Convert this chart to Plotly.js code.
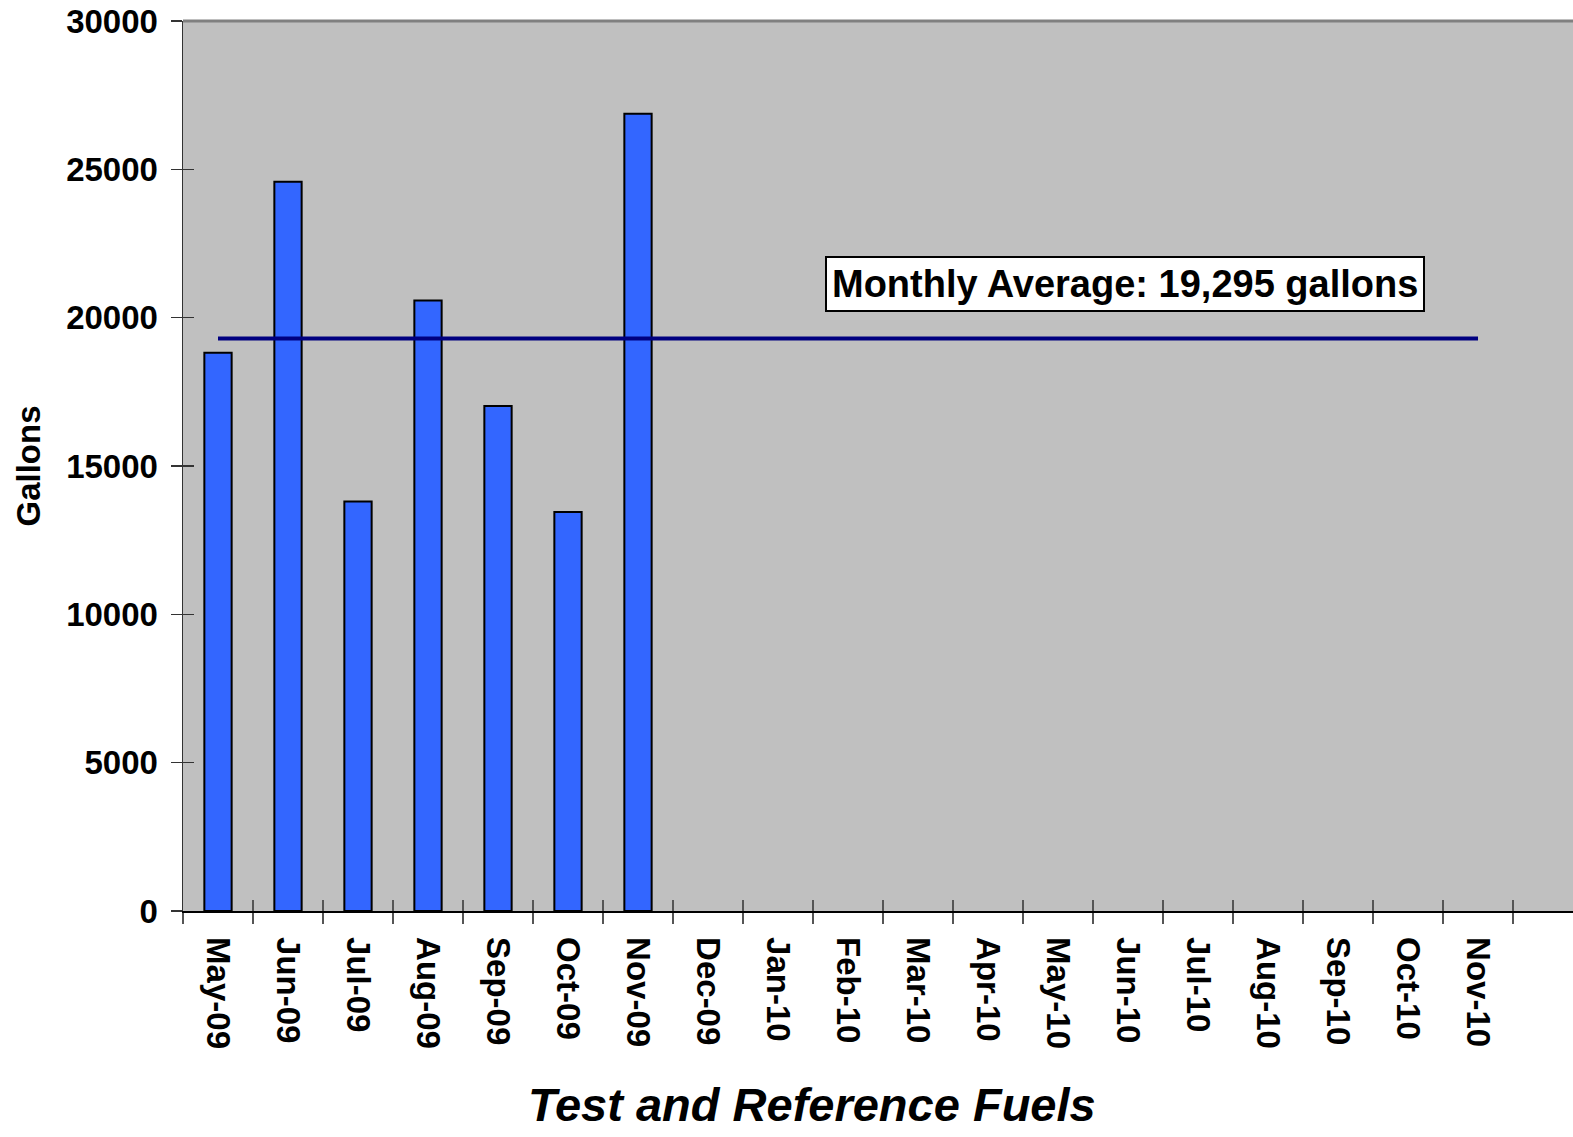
<!DOCTYPE html>
<html>
<head>
<meta charset="utf-8">
<script src="https://cdn.plot.ly/plotly-3.0.1.min.js"></script>
<style>html,body{margin:0;padding:0;background:#fff;}#chart{width:1573px;height:1137px;}</style>
</head>
<body>
<div id="chart"></div>
<script>
const months = ["May-09","Jun-09","Jul-09","Aug-09","Sep-09","Oct-09","Nov-09","Dec-09","Jan-10","Feb-10","Mar-10","Apr-10","May-10","Jun-10","Jul-10","Aug-10","Sep-10","Oct-10","Nov-10"];
const gallons = [18820,24580,13800,20580,17020,13450,26870,null,null,null,null,null,null,null,null,null,null,null,null];
const monthlyAverage = 19295;
const averageLabel = "Monthly Average: 19,295 gallons";
const xTitle = "Test and Reference Fuels";
const yTitle = "Gallons";
const yTicks = [0,5000,10000,15000,20000,25000,30000];

const FONT = "Liberation Sans, Arial, sans-serif";
const xr = [-0.5, 19.357];

const traces = [
  {
    type: "bar", x: months, y: gallons, xaxis: "x", yaxis: "y",
    marker: {color: "#3366FF", line: {color: "#000000", width: 2}},
    hoverinfo: "x+y", showlegend: false
  },
  {
    type: "scatter", mode: "lines", xaxis: "x2", yaxis: "y2",
    x: [months[0], months[months.length - 1]],
    y: [monthlyAverage, monthlyAverage],
    line: {color: "#000080", width: 4},
    showlegend: false
  }
];

const layout = {
  width: 1573, height: 1137,
  margin: {l: 183, r: 0, t: 21, b: 226},
  paper_bgcolor: "#ffffff",
  plot_bgcolor: "#C0C0C0",
  bargap: 0.61,
  font: {family: FONT, color: "#000"},
  xaxis: {
    type: "category", categoryarray: months, categoryorder: "array",
    range: xr, fixedrange: true,
    showline: true, linecolor: "#000", linewidth: 1.5,
    ticks: "outside", ticklen: 11, tickwidth: 1.5, tickcolor: "#555",
    tickson: "boundaries", showgrid: false, zeroline: false,
    tickangle: 90, ticklabelstandoff: 18,
    tickfont: {family: FONT, size: 33, weight: "bold", color: "#000"}
  },
  yaxis: {
    range: [0, 30000], tickvals: yTicks, ticktext: yTicks.map(String),
    showline: true, linecolor: "#333", linewidth: 1.5,
    ticks: "outside", ticklen: 11, tickwidth: 1.5, tickcolor: "#333",
    ticklabelstandoff: 6,
    showgrid: false, zeroline: false,
    tickfont: {family: FONT, size: 33, weight: "bold", color: "#000"},
    title: {text: yTitle, font: {family: FONT, size: 33, weight: "bold", color: "#000"}, standoff: 15}
  },
  xaxis2: {
    type: "category", categoryarray: months, categoryorder: "array",
    range: xr, overlaying: "x", anchor: "y2", side: "bottom",
    showline: false, ticks: "inside", ticklen: 11, tickwidth: 1.5, tickcolor: "#555",
    tickson: "boundaries", showticklabels: false, showgrid: false, zeroline: false
  },
  yaxis2: {
    range: [0, 30000], tickvals: yTicks, overlaying: "y", anchor: "x2", side: "left",
    showline: false, ticks: "inside", ticklen: 11, tickwidth: 1.5, tickcolor: "#333",
    showticklabels: false, showgrid: false, zeroline: false
  },
  shapes: [
    {type: "line", xref: "paper", yref: "paper", x0: 0, x1: 1, y0: 1, y1: 1, line: {color: "#808080", width: 3}}
  ],
  annotations: [
    {
      xref: "paper", yref: "paper", x: 0.678, y: 0.7045,
      xanchor: "center", yanchor: "middle", showarrow: false,
      text: averageLabel,
      font: {family: FONT, size: 38, weight: "bold", color: "#000"},
      bgcolor: "#ffffff", bordercolor: "#000", borderwidth: 2, borderpad: 5
    },
    {
      xref: "paper", yref: "paper", x: 0.4525, y: -0.2169,
      xanchor: "center", yanchor: "middle", showarrow: false,
      text: xTitle, borderpad: 0,
      font: {family: FONT, size: 47, weight: "bold", style: "italic", color: "#000"}
    }
  ]
};

Plotly.newPlot("chart", traces, layout, {staticPlot: true, displayModeBar: false});
</script>
</body>
</html>
